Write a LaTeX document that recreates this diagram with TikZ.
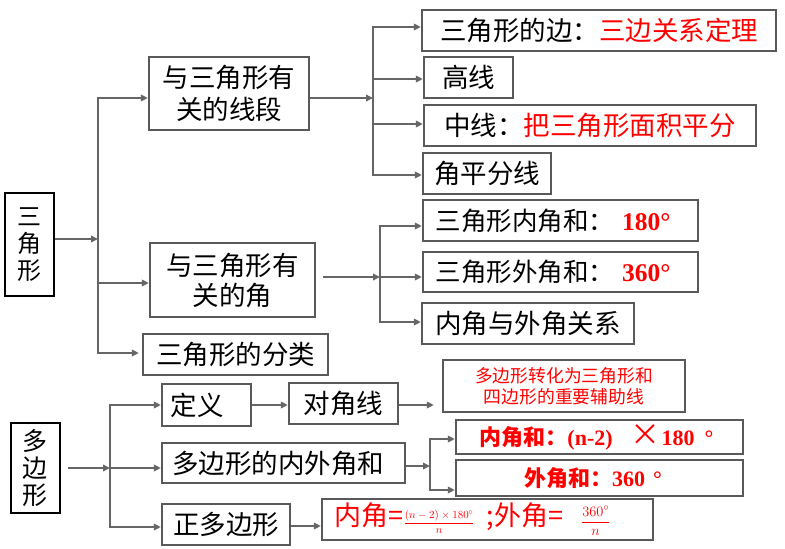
\documentclass[tikz,border=0pt]{standalone}
\usepackage[no-math]{fontspec}
\setmainfont{Noto Sans CJK SC}
\newfontfamily\tnr{Liberation Serif}
\usetikzlibrary{arrows.meta}
\definecolor{boxgray}{HTML}{595959}
\definecolor{arrgray}{HTML}{666666}
\definecolor{txtred}{HTML}{FF0000}
\newcommand\fsz[1]{\fontsize{#1}{#1}\selectfont}
\tikzset{
  bx/.style={draw=boxgray, line width=2.3pt, inner sep=0pt, font=\fsz{26.5}},
  ln/.style={draw=arrgray, line width=1.8pt},
  trunk/.style={ln, line cap=rect},
  arr/.style={ln, -{Triangle[length=7pt,width=6.5pt]}},
}
\begin{document}
\begin{tikzpicture}[x=1pt,y=-1pt]
\useasboundingbox[fill=white] (0,0) rectangle (785,549);

% triangle part
\node[bx, draw=black, minimum width=49pt, minimum height=103pt, align=center, font=\fontsize{24}{27}\selectfont] (tri) at (29.5,244.5) {三\\角\\形};
\node[bx, minimum width=160pt, minimum height=73pt, align=center, font=\fontsize{26.5}{32}\selectfont] (seg) at (229,93.5) {与三角形有\\关的线段};
\node[bx, minimum width=165pt, minimum height=74pt, align=center, font=\fontsize{26.5}{30}\selectfont] (ang) at (232.5,280) {与三角形有\\关的角};
\node[bx, minimum width=185pt, minimum height=41pt] (cls) at (235.5,354.5) {三角形的分类};
\node[bx, minimum width=354pt, minimum height=41pt] (bian) at (599,30.5) {三角形的边：\textcolor{txtred}{三边关系定理}};
\node[bx, minimum width=89pt, minimum height=41pt] (gao) at (468.5,77.5) {高线};
\node[bx, minimum width=332pt, minimum height=41pt] (zhong) at (590,125.5) {中线：\textcolor{txtred}{把三角形面积平分}};
\node[bx, minimum width=128pt, minimum height=41pt] (pfx) at (487,173.5) {角平分线};
\node[bx, minimum width=275pt, minimum height=41pt, font=\fsz{25.5}] (nei) at (560.5,220.5) {三角形内角和：\kern8pt{\tnr\bfseries\color{txtred}180°}\kern15pt};
\node[bx, minimum width=275pt, minimum height=40pt, font=\fsz{25.5}] (wai) at (560.5,272) {三角形外角和：\kern8pt{\tnr\bfseries\color{txtred}360°}\kern15pt};
\node[bx, minimum width=212pt, minimum height=41pt] (rel) at (528,323.5) {内角与外角关系};

% polygon part
\node[bx, draw=black, minimum width=49pt, minimum height=90pt, align=center, font=\fontsize{25}{26.7}\selectfont] (poly) at (35.5,468) {多\\边\\形};
\node[bx, minimum width=89pt, minimum height=42pt] (def) at (206.5,405) {定义\kern19pt};
\node[bx, minimum width=109pt, minimum height=41pt] (djx) at (343.5,403.5) {对角线};
\node[bx, minimum width=242pt, minimum height=52pt, align=center, text=txtred, font=\fontsize{17.8}{21}\selectfont] (conv) at (564,386) {多边形转化为三角形和\\四边形的重要辅助线};
\node[bx, minimum width=243pt, minimum height=40pt] (nwj) at (283.5,463) {多边形的内外角和\kern11pt};
\node[bx, minimum width=287pt, minimum height=34pt, text=txtred, font=\fsz{22}\bfseries] (nsum) at (599.5,437) {内角和：{\tnr (n-2)}\kern18pt{\fsz{30}\mdseries ×}\kern1pt{\tnr 180\kern10pt°}\kern6pt};
\node[bx, minimum width=287pt, minimum height=36pt, text=txtred, font=\fsz{22}\bfseries] (wsum) at (599.5,478) {外角和：{\tnr 360\kern8pt°}\kern13pt};
\node[bx, minimum width=128pt, minimum height=41pt] (zdb) at (226,524.5) {正多边形};
\node[bx, minimum width=331pt, minimum height=41pt, text=txtred] (form) at (487.5,519.5) {{\fsz{27}内角=}{\fsz{10.95}$\displaystyle\frac{(n-2)\times180^\circ}{n}$}\kern12pt{\fsz{27};外角=}\kern18pt{\fsz{14.4}$\displaystyle\frac{360^\circ}{n}$}\kern30pt};

% junction coordinates
\coordinate (j1) at (98,239);
\coordinate (j1a) at (98,98);
\coordinate (j1b) at (98,283);
\coordinate (j1c) at (98,353);
\coordinate (j2) at (373,98);
\coordinate (j2a) at (373,27);
\coordinate (j2b) at (373,79);
\coordinate (j2c) at (373,124);
\coordinate (j2d) at (373,175);
\coordinate (j3) at (380,277);
\coordinate (j3a) at (380,226);
\coordinate (j3c) at (380,322);
\coordinate (j4) at (110,468);
\coordinate (j4a) at (110,405);
\coordinate (j4c) at (110,527);
\coordinate (j6) at (430,466);
\coordinate (j6a) at (430,439);
\coordinate (j6c) at (430,490);
\coordinate (j7) at (300,526);

% connectors: triangle
\draw[arr] (tri.east |- j1) -- (j1);
\draw[trunk] (j1a) -- (j1c);
\draw[arr] (j1a) -- (seg.west |- j1a);
\draw[arr] (j1b) -- (ang.west |- j1b);
\draw[arr, shorten >=3pt] (j1c) -- (cls.west |- j1c);

\draw[arr] (seg.east |- j2) -- (j2);
\draw[trunk] (j2a) -- (j2d);
\draw[arr] (j2a) -- (bian.west |- j2a);
\draw[arr] (j2b) -- (gao.west |- j2b);
\draw[arr] (j2c) -- (zhong.west |- j2c);
\draw[arr] (j2d) -- (pfx.west |- j2d);

\draw[arr, shorten <=7pt] (ang.east |- j3) -- (j3);
\draw[trunk] (j3a) -- (j3c);
\draw[arr] (j3a) -- (nei.west |- j3a);
\draw[arr] (j3) -- (wai.west |- j3);
\draw[arr] (j3c) -- (rel.west |- j3c);

% connectors: polygon
\draw[arr, shorten <=7pt] (poly.east |- j4) -- (j4);
\draw[trunk] (j4a) -- (j4c);
\draw[arr] (j4a) -- (def.west |- j4a);
\draw[arr] (j4) -- (nwj.west |- j4);
\draw[arr] (j4c) -- (zdb.west |- j4c);
\draw[arr] (def.east |- j4a) -- (djx.west |- j4a);
\draw[arr, shorten >=8pt] (djx.east |- j4a) -- (conv.west |- j4a);

\draw[arr] (nwj.east |- j6) -- (j6);
\draw[trunk] (j6a) -- (j6c);
\draw[arr] (j6a) -- (nsum.west |- j6a);
\draw[arr] (j6c) -- (wsum.west |- j6c);

\draw[arr] (zdb.east |- j7) -- (form.west |- j7);
\end{tikzpicture}
\end{document}
